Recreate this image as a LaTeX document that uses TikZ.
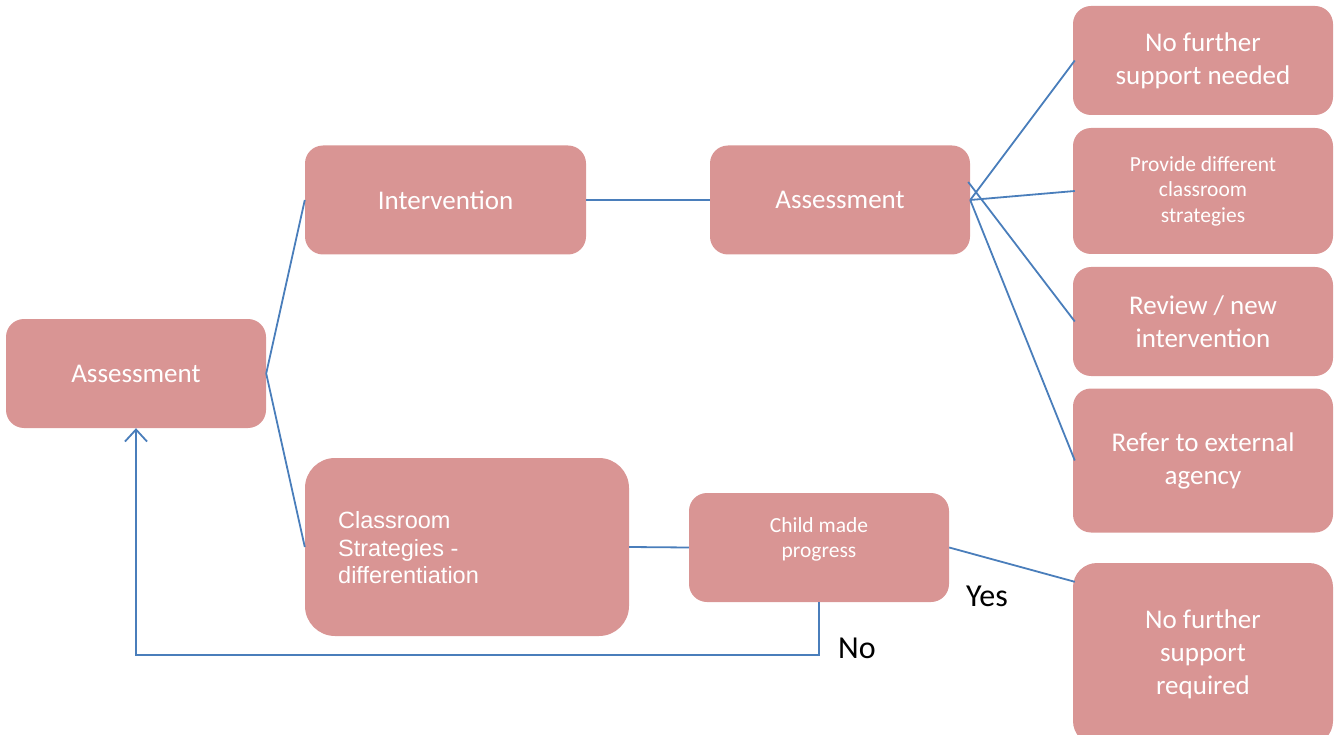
\documentclass[tikz,border=0pt]{standalone}
\usepackage{fontspec}
\setmainfont{Carlito}
\newfontfamily\arialfont{Liberation Sans}
\usetikzlibrary{arrows.meta,calc}
\definecolor{boxfill}{HTML}{D99594}
\definecolor{linecol}{HTML}{4A7EBB}
\begin{document}
\begin{tikzpicture}[x=1pt,y=-1pt,
  box/.style={fill=boxfill, draw=none, rounded corners=18pt, inner sep=0pt,
    minimum width=260pt, minimum height=109pt, text=white, align=center,
    font=\fontsize{27}{33}\selectfont},
  smalltxt/.style={text=white, align=center, font=\fontsize{21.5}{25.5}\selectfont},
  conn/.style={draw=linecol, line width=1.8pt},
  lab/.style={text=black, font=\fontsize{32}{36}\selectfont}]
\useasboundingbox (0,0) rectangle (1341,735);
% boxes
\node[box] (a1) at (136,373.5) {Assessment};
\node[box, minimum width=281pt] (int) at (445.5,200) {Intervention};
\node[box] (a2) at (840,200) {Assessment};
\node[box, minimum width=324pt, minimum height=178pt, rounded corners=30pt] (cls) at (467,547) {};
\node[text=white, align=left, anchor=west, inner sep=0pt, font=\arialfont\fontsize{23.5}{27.5}\selectfont] (clstxt) at (338,548) {Classroom\\Strategies -\\differentiation};
\node[box] (child) at (819,547.5) {};
\node[smalltxt] (childtxt) at (819,539.5) {Child made\\progress};
\node[box] (nf1) at (1203,60.5) {No further\\support needed};
\node[box, minimum height=126pt, font=\fontsize{21.5}{25.5}\selectfont] (prov) at (1203,191) {Provide different\\classroom\\strategies};
\node[box] (rev) at (1203,321.5) {Review / new\\intervention};
\node[box, minimum height=144pt] (ref) at (1203,460.5) {Refer to external\\agency};
\node[box, minimum height=182pt, rounded corners=24pt] (nfr) at (1203,654) {No further\\support\\required};
% connectors
\draw[conn] (int.west) -- (a1.east) -- (cls.west);
\draw[conn] (int.east) -- (a2.west);
\draw[conn] (a2.east) -- ($(nf1.west)+(2,0)$);
\draw[conn] (a2.east) -- ($(prov.west)+(2,0)$);
\draw[conn] ($(a2.east)+(-2,-18)$) -- ($(rev.west)+(2,0)$);
\draw[conn] (a2.east) -- ($(ref.west)+(2,0)$);
\draw[conn] (cls.east) -- (child.west);
\draw[conn] (child.east) -- ($(nfr.north west)+(2,19)$);
\draw[conn, -{Straight Barb[length=12pt,width=22pt,line width=1.8pt]}] (child.south) -- ++(0,53) coordinate (bend) -| (a1.south);
% labels
\node[lab] (yes) at (987,596) {Yes};
\node[lab] (no) at (857,648) {No};
\end{tikzpicture}
\end{document}
